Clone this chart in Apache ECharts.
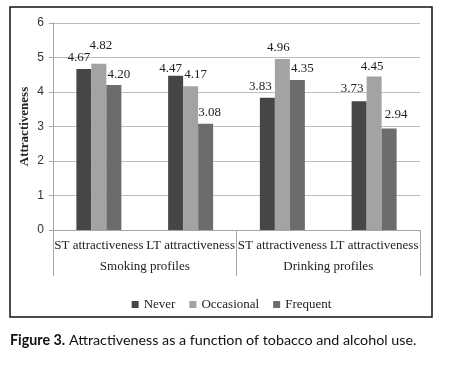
<!DOCTYPE html>
<html>
<head>
<meta charset="utf-8">
<script src="https://cdn.jsdelivr.net/npm/echarts@6/dist/echarts.min.js"></script>
<style>html,body{margin:0;padding:0;background:#fff;}#c{width:463px;height:373px;}</style>
</head>
<body>
<div id="c"></div>
<script>
var categories = ['ST attractiveness', 'LT attractiveness', 'ST attractiveness', 'LT attractiveness'];
var groups = ['Smoking profiles', 'Drinking profiles'];
var seriesNames = ['Never', 'Occasional', 'Frequent'];
var neverVals = [4.67, 4.47, 3.83, 3.73];
var occasionalVals = [4.82, 4.17, 4.96, 4.45];
var frequentVals = [4.20, 3.08, 4.35, 2.94];
var yTicks = [0, 1, 2, 3, 4, 5, 6];
var captionBold = 'Figure 3.';
var captionText = ' Attractiveness as a function of tobacco and alcohol use.';

// styling: per-label nudges (Excel manual label placement)
var labelNudges = [
  [[-5, 0], [-5, 4], [-7, 0], [-7, -1]],
  [[2, -7], [5, 0], [-4, 0], [-2, 2]],
  [[5, 1], [4, 0], [5, 0], [7, -2]]
];
var colors = ['#464646', '#a3a3a3', '#6c6c6c'];
var serif = '"Liberation Serif", "Times New Roman", serif';

function makeSeries(idx, vals) {
  return {
    name: seriesNames[idx],
    type: 'bar',
    barWidth: 15,
    barGap: '0%',
    itemStyle: { color: colors[idx] },
    data: vals.map(function (v, i) {
      return {
        value: v,
        label: { offset: labelNudges[idx][i] }
      };
    }),
    label: {
      show: true,
      position: 'top',
      distance: 5,
      fontFamily: serif,
      fontSize: 13,
      color: '#222',
      formatter: function (p) { return p.value.toFixed(2); }
    }
  };
}

var chart = echarts.init(document.getElementById('c'), null, { renderer: 'canvas' });
chart.setOption({
  animation: false,
  backgroundColor: '#fff',
  grid: { left: 53, right: 43, top: 23, bottom: 143, containLabel: false },
  legend: {
    data: seriesNames,
    top: 293,
    left: 'center',
    icon: 'rect',
    itemWidth: 7,
    itemHeight: 7,
    itemGap: 14,
    textStyle: { fontFamily: serif, fontSize: 13, color: '#222' }
  },
  xAxis: [
    {
      type: 'category',
      data: categories,
      position: 'bottom',
      axisLine: { show: true, lineStyle: { color: '#a6a6a6', width: 1 } },
      axisTick: { show: false },
      axisLabel: { interval: 0, margin: 9, fontFamily: serif, fontSize: 13, color: '#222' }
    },
    {
      type: 'category',
      data: groups,
      position: 'bottom',
      axisLine: { show: true, lineStyle: { color: '#a6a6a6', width: 1 } },
      axisTick: { show: true, length: 46, lineStyle: { color: '#a6a6a6', width: 1 } },
      axisLabel: { interval: 0, margin: 30, fontFamily: serif, fontSize: 13, color: '#222' }
    }
  ],
  yAxis: {
    type: 'value',
    min: yTicks[0],
    max: yTicks[yTicks.length - 1],
    interval: 1,
    name: 'Attractiveness',
    nameLocation: 'middle',
    nameGap: 22,
    nameMoveOverlap: false,
    nameRotate: 90,
    nameTextStyle: { fontFamily: serif, fontSize: 13, fontWeight: 'bold', color: '#222' },
    axisLine: { show: true, lineStyle: { color: '#a6a6a6', width: 1 } },
    axisTick: { show: true, length: 4, lineStyle: { color: '#a6a6a6' } },
    axisLabel: { margin: 9, fontFamily: '"Liberation Sans", Arial, sans-serif', fontSize: 12, color: '#333' },
    splitLine: { show: true, lineStyle: { color: '#bdbdbd', width: 1 } }
  },
  series: [
    makeSeries(0, neverVals),
    makeSeries(1, occasionalVals),
    makeSeries(2, frequentVals)
  ],
  graphic: [
    {
      type: 'rect',
      shape: { x: 10, y: 7, width: 422, height: 310 },
      style: { fill: 'none', stroke: '#111', lineWidth: 1.5 },
      silent: true
    },
    {
      type: 'text',
      left: 10,
      top: 333,
      style: {
        text: '{b|' + captionBold + '}{n|' + captionText + '}',
        rich: {
          b: { fontFamily: 'Lato, "Open Sans", sans-serif', fontSize: 14.3, fontWeight: 'bold', fill: '#111' },
          n: { fontFamily: 'Lato, "Open Sans", sans-serif', fontSize: 14.3, fill: '#111' }
        }
      }
    }
  ]
});
</script>
</body>
</html>
